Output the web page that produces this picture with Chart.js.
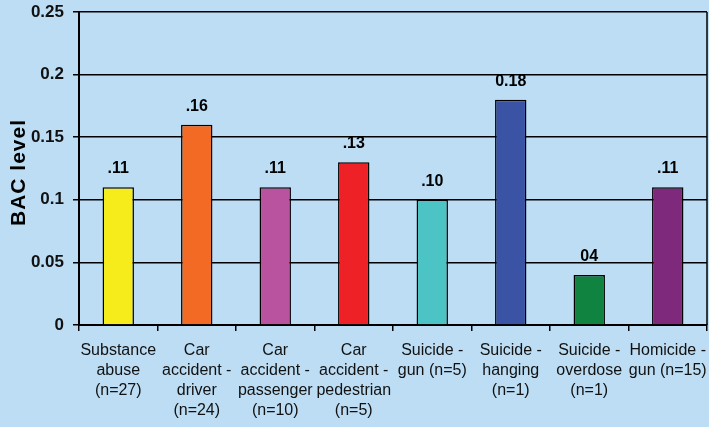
<!DOCTYPE html>
<html>
<head>
<meta charset="utf-8">
<script src="https://cdn.jsdelivr.net/npm/chart.js@4"></script>
<style>
html,body{margin:0;padding:0;background:#BCDDF4;}
#wrap{width:709px;height:427px;position:relative;}
</style>
</head>
<body>
<div id="wrap"><canvas id="c" width="709" height="427"></canvas></div>
<script>
const categories = [
  ["Substance","abuse","(n=27)"],
  ["Car","accident -","driver","(n=24)"],
  ["Car","accident -","passenger","(n=10)"],
  ["Car","accident -","pedestrian","(n=5)"],
  ["Suicide -","gun (n=5)"],
  ["Suicide -","hanging","(n=1)"],
  ["Suicide -","overdose","(n=1)"],
  ["Homicide -","gun (n=15)"]
];
const bacValues = [0.11, 0.16, 0.11, 0.13, 0.10, 0.18, 0.04, 0.11];
const valueLabels = [".11", ".16", ".11", ".13", ".10", "0.18", "04", ".11"];
const barColors = ["#F6EC1B", "#F26A24", "#B9529F", "#EE2127", "#4CC3C4", "#3A53A4", "#108341", "#7E297C"];
const yTicks = [0, 0.05, 0.1, 0.15, 0.2, 0.25];
const yTitle = "BAC level";

const FONT = '"Liberation Sans", Arial, sans-serif';

const labelPlugin = {
  id: 'valueLabels',
  afterDatasetsDraw(chart) {
    const ctx = chart.ctx;
    const meta = chart.getDatasetMeta(0);
    ctx.save();
    ctx.font = 'bold 16px ' + FONT;
    ctx.fillStyle = '#000';
    ctx.textAlign = 'center';
    ctx.textBaseline = 'alphabetic';
    meta.data.forEach((bar, i) => {
      ctx.fillText(valueLabels[i], bar.x, bar.y - 14);
    });
    ctx.restore();
  },
  afterDraw(chart) {
    const ctx = chart.ctx, a = chart.chartArea;
    ctx.save();
    ctx.strokeStyle = '#000';
    ctx.lineWidth = 1.5;
    ctx.beginPath();
    ctx.moveTo(a.right, a.top);
    ctx.lineTo(a.right, a.bottom);
    ctx.stroke();
    ctx.translate(19, (a.top + a.bottom) / 2 + 4);
    ctx.rotate(-Math.PI / 2);
    ctx.font = 'bold 21px ' + FONT;
    try { ctx.letterSpacing = '1px'; } catch (e) {}
    ctx.fillStyle = '#000';
    ctx.textAlign = 'center';
    ctx.textBaseline = 'middle';
    ctx.fillText(yTitle, 0, 0);
    ctx.restore();
  }
};

new Chart(document.getElementById('c'), {
  type: 'bar',
  data: {
    labels: categories,
    datasets: [{
      data: bacValues,
      backgroundColor: barColors,
      borderColor: '#000',
      borderWidth: 1.5,
      barPercentage: 0.4,
      categoryPercentage: 1.0
    }]
  },
  options: {
    responsive: false,
    animation: false,
    layout: { padding: { left: 0, top: 12, right: 2, bottom: 0 } },
    plugins: { legend: { display: false }, tooltip: { enabled: false } },
    scales: {
      x: {
        offset: true,
        grid: { offset: true, drawOnChartArea: false, drawTicks: true, tickLength: 6, color: '#000', lineWidth: 1.5 },
        border: { display: true, color: '#000', width: 2 },
        ticks: {
          color: '#111',
          font: { family: FONT, size: 16, lineHeight: 1.25 },
          padding: 10,
          maxRotation: 0,
          autoSkip: false
        },
        afterFit(scale) { scale.height = 102; scale.paddingLeft = 0; scale.paddingRight = 0; }
      },
      y: {
        min: 0, max: 0.25,
        afterBuildTicks(scale) { scale.ticks = yTicks.map(v => ({ value: v })); },
        grid: { color: '#000', lineWidth: 1.5, drawTicks: true, tickLength: 6 },
        border: { display: true, color: '#000', width: 2 },
        ticks: {
          color: '#111',
          font: { family: FONT, size: 17, weight: 'bold' },
          padding: 9,
          callback: v => String(v)
        },
        afterFit(scale) { scale.width = 79; scale.paddingTop = 0; scale.paddingBottom = 0; }
      }
    }
  },
  plugins: [labelPlugin]
});
</script>
</body>
</html>
